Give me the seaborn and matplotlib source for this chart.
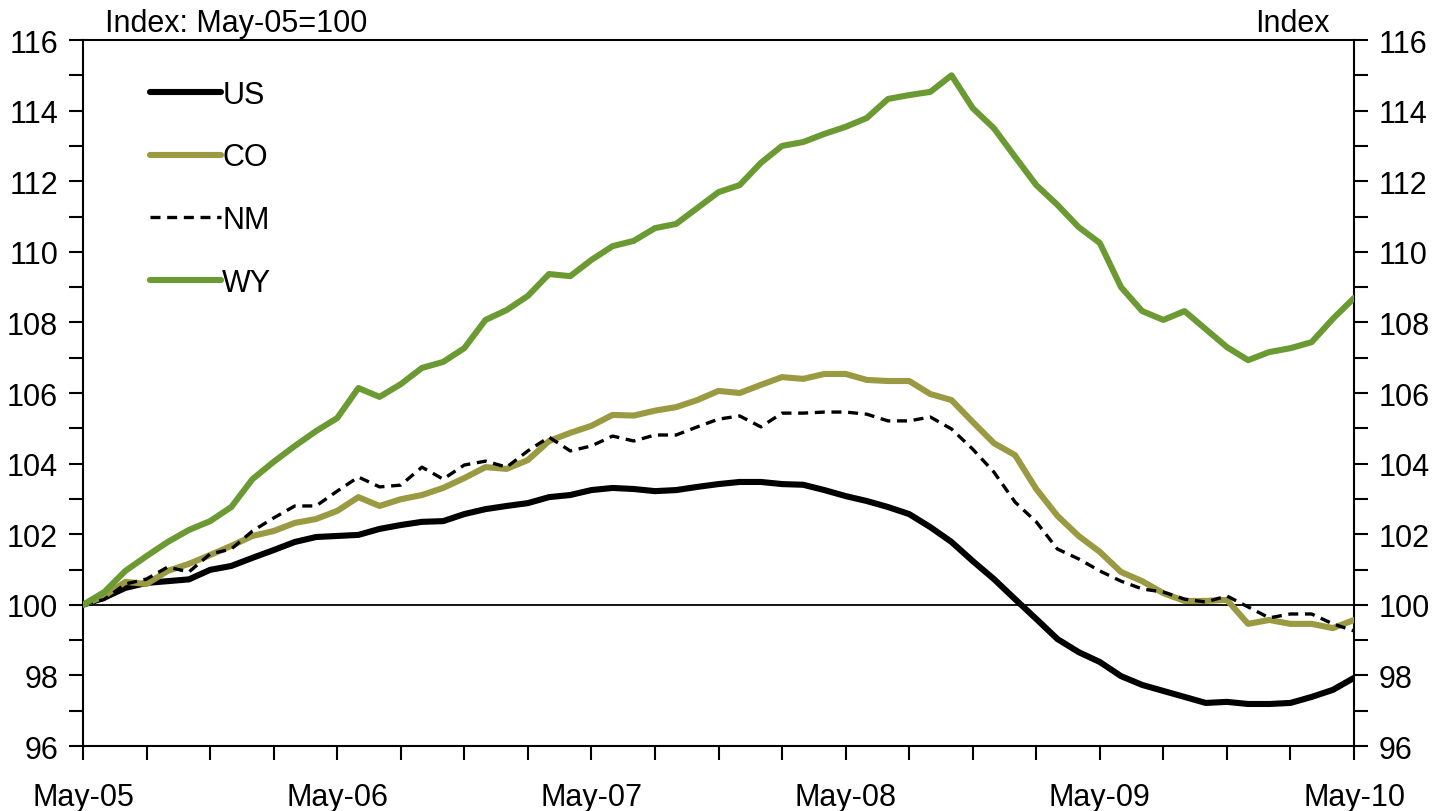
import numpy as np
import pandas as pd
import matplotlib
matplotlib.use("Agg")
import matplotlib.pyplot as plt
import seaborn as sns
from matplotlib.ticker import MultipleLocator

# monthly index, May-05 .. May-10 (May-05 = 100)
months = pd.date_range("2005-05-01", "2010-05-01", freq="MS")

us = [100.0, 100.2, 100.48, 100.62, 100.67, 100.72, 100.99, 101.1, 101.33, 101.55,
      101.78, 101.92, 101.95, 101.98, 102.15, 102.26, 102.35, 102.37, 102.57, 102.71,
      102.8, 102.88, 103.05, 103.11, 103.25, 103.31, 103.28, 103.22, 103.25, 103.34,
      103.42, 103.48, 103.48, 103.42, 103.4, 103.25, 103.08, 102.94, 102.77, 102.57,
      102.2, 101.78, 101.24, 100.73, 100.16, 99.6, 99.03, 98.66, 98.38, 97.98,
      97.73, 97.56, 97.39, 97.22, 97.25, 97.19, 97.19, 97.22, 97.39, 97.59, 97.93]

co = [100.0, 100.25, 100.65, 100.59, 100.96, 101.16, 101.41, 101.67, 101.95, 102.09,
      102.32, 102.43, 102.66, 103.05, 102.8, 102.99, 103.11, 103.31, 103.59, 103.9,
      103.85, 104.1, 104.64, 104.87, 105.07, 105.38, 105.36, 105.5, 105.6, 105.8,
      106.06, 106.0, 106.23, 106.45, 106.4, 106.54, 106.54, 106.37, 106.34, 106.34,
      105.97, 105.8, 105.18, 104.58, 104.24, 103.28, 102.52, 101.95, 101.5, 100.93,
      100.67, 100.33, 100.11, 100.11, 100.14, 99.46, 99.57, 99.46, 99.46, 99.34, 99.57]

nm = [100.0, 100.15, 100.59, 100.73, 101.07, 100.93, 101.44, 101.58, 102.09, 102.46,
      102.8, 102.8, 103.22, 103.62, 103.34, 103.39, 103.9, 103.56, 103.96, 104.07,
      103.9, 104.36, 104.75, 104.36, 104.5, 104.78, 104.64, 104.81, 104.81, 105.04,
      105.26, 105.35, 105.04, 105.43, 105.43, 105.46, 105.46, 105.4, 105.21, 105.21,
      105.32, 104.98, 104.41, 103.76, 102.91, 102.35, 101.58, 101.3, 100.96, 100.67,
      100.45, 100.36, 100.16, 100.08, 100.25, 99.94, 99.63, 99.74, 99.74, 99.46, 99.26]

wy = [100.0, 100.36, 100.96, 101.38, 101.78, 102.12, 102.37, 102.77, 103.56, 104.05,
      104.5, 104.92, 105.29, 106.14, 105.89, 106.25, 106.71, 106.88, 107.27, 108.07,
      108.35, 108.75, 109.37, 109.31, 109.77, 110.16, 110.31, 110.67, 110.79, 111.24,
      111.69, 111.89, 112.52, 113.0, 113.11, 113.34, 113.54, 113.79, 114.33, 114.44,
      114.53, 115.0, 114.07, 113.5, 112.69, 111.89, 111.33, 110.7, 110.25, 109.0,
      108.32, 108.07, 108.32, 107.81, 107.3, 106.93, 107.16, 107.27, 107.44, 108.1, 108.69]

series = ["US", "CO", "NM", "WY"]
colors = {"US": "black", "CO": "#999A42", "NM": "black", "WY": "#6B9A33"}
widths = {"US": 4.4, "CO": 4.4, "NM": 2.4, "WY": 4.4}

df = pd.DataFrame({"t": np.arange(len(months)), "US": us, "CO": co, "NM": nm, "WY": wy})
long = df.melt(id_vars="t", var_name="state", value_name="index")

sns.set_style("ticks")
plt.rcParams["font.family"] = ["Liberation Sans", "DejaVu Sans"]
plt.rcParams["text.color"] = "black"
plt.rcParams["xtick.color"] = "black"
plt.rcParams["ytick.color"] = "black"

fig = plt.figure(figsize=(14.35, 8.12), dpi=100)
ax = fig.add_axes([83 / 1435, 65 / 812, 1271 / 1435, 706 / 812])

ax.axhline(100, color="black", lw=1.3, zorder=1)

for s in series:
    d = long[long["state"] == s]
    sns.lineplot(data=d, x="t", y="index", ax=ax, color=colors[s],
                 lw=widths[s], label=s, zorder=3)
    if s == "NM":
        ax.lines[-1].set_dashes((3, 2))
        ax.lines[-1].set_dash_capstyle("butt")

ax.set_xlim(0, len(months) - 1)
ax.set_ylim(96, 116)

ax.set_xticks(range(0, len(months), 12))
ax.set_xticklabels([m.strftime("%b-%y") for m in months[::12]])
ax.xaxis.set_minor_locator(MultipleLocator(3))
ax.yaxis.set_major_locator(MultipleLocator(2))
ax.yaxis.set_minor_locator(MultipleLocator(1))

ax.tick_params(axis="x", which="both", direction="out", length=10, width=1.5,
               labelsize=22, pad=16, colors="black")
ax.tick_params(axis="y", which="both", direction="out", length=10, width=1.5,
               labelsize=22, left=True, right=True, labelleft=True, labelright=True,
               pad=8, colors="black")

for sp in ax.spines.values():
    sp.set_visible(True)
    sp.set_color("black")
    sp.set_linewidth(1.5)

ax.set_xlabel("")
ax.set_ylabel("")

ax.text(0.017, 1.003, "Index: May-05=100", transform=ax.transAxes,
        ha="left", va="bottom", fontsize=22, color="black")
ax.text(0.981, 1.003, "Index", transform=ax.transAxes,
        ha="right", va="bottom", fontsize=22, color="black")

leg = ax.legend(loc="upper left", bbox_to_anchor=(0.053, 0.944), frameon=False,
                fontsize=22, handlelength=2.3, handletextpad=0.05, labelspacing=1.07,
                borderaxespad=0, borderpad=0)
for t in leg.get_texts():
    t.set_color("black")

fig.savefig("out.png", dpi=100)
